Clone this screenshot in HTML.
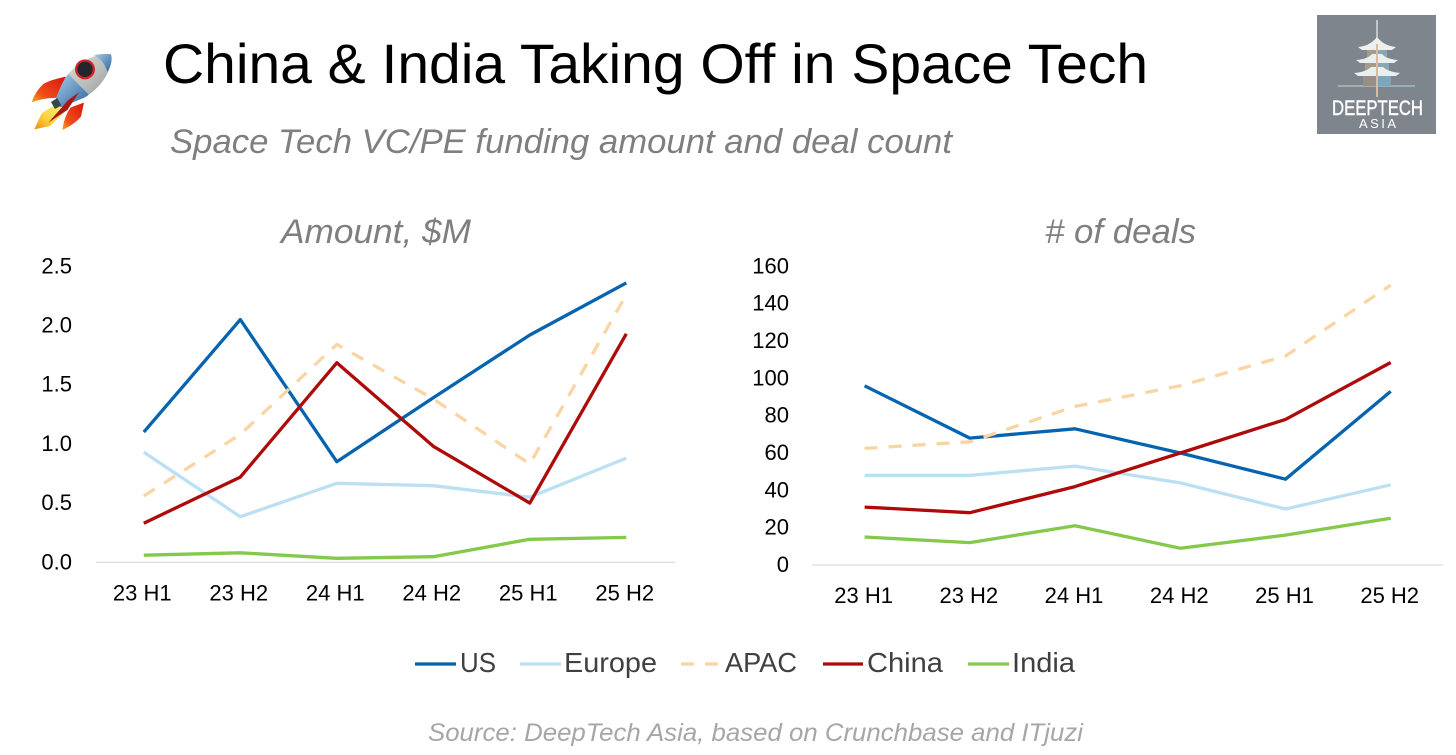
<!DOCTYPE html>
<html lang="en">
<head>
<meta charset="utf-8">
<title>China &amp; India Taking Off in Space Tech</title>
<style>
html,body{margin:0;padding:0;background:#fff;width:1456px;height:755px;overflow:hidden}
svg{display:block}
text{font-family:"Liberation Sans",sans-serif}
</style>
</head>
<body>
<svg id="root" width="1456" height="755" viewBox="0 0 1456 755" xmlns="http://www.w3.org/2000/svg">
  <defs>
    <linearGradient id="bodyGrad" x1="0" y1="0" x2="1" y2="1">
      <stop offset="0" stop-color="#e2e4e2"/><stop offset=".55" stop-color="#b9bdb9"/><stop offset="1" stop-color="#7d8a90"/>
    </linearGradient>
    <linearGradient id="blueGrad" x1="0" y1="0" x2="1" y2="1">
      <stop offset="0" stop-color="#a9cbe6"/><stop offset="1" stop-color="#2a66a0"/>
    </linearGradient>
    <linearGradient id="finGrad" x1="1" y1="0" x2="0" y2="1">
      <stop offset="0" stop-color="#d9140e"/><stop offset=".7" stop-color="#f0501a"/><stop offset="1" stop-color="#f7a91f"/>
    </linearGradient>
    <linearGradient id="flameGrad" x1="1" y1="0" x2="0" y2="1">
      <stop offset="0" stop-color="#fff48a"/><stop offset=".6" stop-color="#fbd13a"/><stop offset="1" stop-color="#ee8a12"/>
    </linearGradient>
  </defs>

  <rect x="0" y="0" width="1456" height="755" fill="#ffffff"/>

  <g transform="scale(0.33333)">
    <path d="M168 312 L125 340 L103 388 L150 378 L195 335 Z" fill="url(#flameGrad)"/>
    <path d="M197 230 Q150 240 130 252 Q105 275 95 307 Q135 292 178 294 Z" fill="url(#finGrad)"/>
    <path d="M252 308 L212 322 Q192 350 187 390 Q225 372 243 350 Z" fill="url(#finGrad)"/>
    <path d="M168 295 C180 265 190 240 205 222 C235 188 280 160 333 163 C340 190 320 232 298 256 C280 275 262 290 240 298 L182 322 Z" fill="url(#bodyGrad)"/>
    <path d="M282 166 C300 161 320 161 333 163 C338 180 332 200 322 216 C316 192 302 175 282 166 Z" fill="url(#blueGrad)"/>
    <path d="M168 295 C180 265 190 240 205 222 L266 284 C258 291 250 295 240 298 L182 322 Z" fill="url(#blueGrad)"/>
    <path d="M153 306 L172 294 L184 317 L165 327 Z" fill="#37474a"/>
    <path d="M238 276 L205 300 L145 368 L202 330 Z" fill="#a8190f"/>
    <circle cx="255" cy="208" r="30" fill="#d9212a"/>
    <circle cx="255" cy="208" r="23" fill="#23262b"/>
  </g>

  <text x="163" y="83" font-size="56" fill="#000000" textLength="985" lengthAdjust="spacingAndGlyphs">China &amp; India Taking Off in Space Tech</text>
  <text x="170" y="153" font-size="34" font-style="italic" fill="#7f7f7f" textLength="782" lengthAdjust="spacingAndGlyphs">Space Tech VC/PE funding amount and deal count</text>

  <g>
    <rect x="1317" y="15" width="119" height="119" fill="#7f858c"/>
    <line x1="1338" y1="86" x2="1377" y2="86" stroke="#d9d2c6" stroke-width="1"/>
    <line x1="1377" y1="86" x2="1415" y2="86" stroke="#a9d6ea" stroke-width="1"/>
    <line x1="1377" y1="20" x2="1377" y2="46" stroke="#eef0f0" stroke-width="1.2"/>
    <rect x="1367" y="50" width="10" height="10" fill="#a89a88"/>
    <rect x="1377" y="50" width="10" height="10" fill="#86a8b8"/>
    <rect x="1365" y="63" width="12" height="10" fill="#a89a88"/>
    <rect x="1377" y="63" width="12" height="10" fill="#86a8b8"/>
    <rect x="1363" y="76" width="14" height="10" fill="#989088"/>
    <rect x="1377" y="76" width="14" height="10" fill="#7ea6ba"/>
    <path d="M1358 47 Q1370 46 1377 37 Q1384 46 1396 47 L1392 50 L1362 50 Z" fill="#eef0f0"/>
    <path d="M1356 60 Q1368 59 1372 54 L1382 54 Q1386 59 1398 60 L1394 63 L1360 63 Z" fill="#e9eeee"/>
    <path d="M1354 73 Q1366 72 1371 67 L1383 67 Q1388 72 1400 73 L1396 76 L1358 76 Z" fill="#e9eeee"/>
    <line x1="1377" y1="44" x2="1377" y2="97" stroke="#d7bd9b" stroke-width="2"/>
    <text x="1332" y="115" font-size="21" fill="#ffffff" stroke="#ffffff" stroke-width="0.4" textLength="91" lengthAdjust="spacingAndGlyphs">DEEPTECH</text>
    <text x="1359" y="128" font-size="13" fill="#ffffff" textLength="37" lengthAdjust="spacing">ASIA</text>
  </g>

  <text x="281" y="243" font-size="34" font-style="italic" fill="#7f7f7f" textLength="190" lengthAdjust="spacingAndGlyphs">Amount, $M</text>
  <text x="1045" y="243" font-size="34" font-style="italic" fill="#7f7f7f" textLength="151" lengthAdjust="spacingAndGlyphs"># of deals</text>

  <g id="amount-chart"></g>
  <g id="deals-chart"></g>

  <g>
    <g>
      <line x1="415" y1="664" x2="456" y2="664" stroke="#0563AF" stroke-width="3.3"/>
      <text x="460" y="672" font-size="28" fill="#404040" textLength="36" lengthAdjust="spacingAndGlyphs">US</text>
    </g>
    <g>
      <line x1="520" y1="664" x2="561" y2="664" stroke="#BCE0F3" stroke-width="3.3"/>
      <text x="564" y="672" font-size="28" fill="#404040" textLength="93" lengthAdjust="spacingAndGlyphs">Europe</text>
    </g>
    <g>
      <line x1="681" y1="664" x2="718" y2="664" stroke="#F9D5A4" stroke-width="3.3" stroke-dasharray="13 11"/>
      <text x="725" y="672" font-size="28" fill="#404040" textLength="72" lengthAdjust="spacingAndGlyphs">APAC</text>
    </g>
    <g>
      <line x1="823" y1="664" x2="863" y2="664" stroke="#AE0A0A" stroke-width="3.3"/>
      <text x="867" y="672" font-size="28" fill="#404040" textLength="76" lengthAdjust="spacingAndGlyphs">China</text>
    </g>
    <g>
      <line x1="968" y1="664" x2="1009" y2="664" stroke="#84C94B" stroke-width="3.3"/>
      <text x="1012" y="672" font-size="28" fill="#404040" textLength="63" lengthAdjust="spacingAndGlyphs">India</text>
    </g>
  </g>

  <text x="428" y="741" font-size="25" font-style="italic" fill="#a6a6a6" textLength="655" lengthAdjust="spacingAndGlyphs">Source: DeepTech Asia, based on Crunchbase and ITjuzi</text>
</svg>

<script>
const categories = ['23 H1', '23 H2', '24 H1', '24 H2', '25 H1', '25 H2'];

const amountTicks = [0, 0.5, 1, 1.5, 2, 2.5];
const amountUS = [1.10, 2.05, 0.85, 1.39, 1.92, 2.36];
const amountEurope = [0.93, 0.385, 0.667, 0.647, 0.55, 0.88];
const amountAPAC = [0.56, 1.08, 1.84, 1.38, 0.83, 2.26];
const amountChina = [0.33, 0.72, 1.685, 0.98, 0.50, 1.93];
const amountIndia = [0.06, 0.08, 0.034, 0.047, 0.194, 0.21];

const dealTicks = [0, 20, 40, 60, 80, 100, 120, 140, 160];
const dealsUS = [96, 68, 73, 60, 46, 93];
const dealsEurope = [48, 48, 53, 44, 30, 43];
const dealsAPAC = [62.5, 66, 85, 96, 112, 150];
const dealsChina = [31, 28, 42, 60, 78, 108.5];
const dealsIndia = [15, 12, 21, 9, 16, 25];

const SVG_NS = 'http://www.w3.org/2000/svg';

function mk(parent, tag, attrs, text) {
  const el = document.createElementNS(SVG_NS, tag);
  for (const k in attrs) el.setAttribute(k, attrs[k]);
  if (text !== undefined) el.textContent = text;
  parent.appendChild(el);
  return el;
}

function drawChart(rootId, cfg, series) {
  const root = document.getElementById(rootId);
  const step = (cfg.axisRight - cfg.axisLeft) / categories.length;
  const xScale = i => cfg.axisLeft + step * (i + 0.5) + cfg.markDx;
  const yScale = v => cfg.baseY - (v / cfg.maxTick) * cfg.plotH;

  const axis = mk(root, 'line', {x1: cfg.axisLeft, x2: cfg.axisRight, y1: cfg.baseY, y2: cfg.baseY, stroke: '#d4d4d4', 'stroke-width': 1});
  
  

  cfg.ticks.forEach(t => {
    const label = mk(root, 'text', {x: cfg.tickX, y: yScale(t) + cfg.tickDy, 'text-anchor': 'end', 'font-size': 22, fill: '#000'}, t.toFixed(cfg.decimals));
    
    
  });

  categories.forEach((c, i) => {
    const label = mk(root, 'text', {x: xScale(i) + cfg.catDx, y: cfg.catY, 'text-anchor': 'middle', 'font-size': 22, fill: '#000'}, c);
    
    
  });

  series.forEach(s => {
    const pts = s.values.map((v, i) => xScale(i).toFixed(1) + ',' + yScale(v).toFixed(1)).join(' ');
    const attrs = {points: pts, fill: 'none', stroke: s.color, 'stroke-width': 3.3, 'stroke-linejoin': 'round', 'stroke-linecap': 'butt'};
    if (s.dash) attrs['stroke-dasharray'] = s.dash;
    const line = mk(root, 'polyline', attrs);
    
    
  });
}

const amountConfig = {axisLeft: 96, axisRight: 675, baseY: 562.3, plotH: 296, maxTick: 2.5, ticks: amountTicks, decimals: 1, tickX: 72, tickDy: 7, catY: 600.5, markDx: -0.5, catDx: -1.5};
const dealsConfig = {axisLeft: 812, axisRight: 1443.3, baseY: 565, plotH: 298.6, maxTick: 160, ticks: dealTicks, decimals: 0, tickX: 789, tickDy: 7, catY: 603, markDx: 0, catDx: -1};

drawChart('amount-chart', amountConfig, [
  {name: 'amount-line-us', color: '#0563AF', values: amountUS},
  {name: 'amount-line-europe', color: '#BCE0F3', values: amountEurope},
  {name: 'amount-line-apac', color: '#F9D5A4', dash: '13 11', values: amountAPAC},
  {name: 'amount-line-china', color: '#AE0A0A', values: amountChina},
  {name: 'amount-line-india', color: '#84C94B', values: amountIndia}
]);

drawChart('deals-chart', dealsConfig, [
  {name: 'deals-line-us', color: '#0563AF', values: dealsUS},
  {name: 'deals-line-europe', color: '#BCE0F3', values: dealsEurope},
  {name: 'deals-line-apac', color: '#F9D5A4', dash: '13 11', values: dealsAPAC},
  {name: 'deals-line-china', color: '#AE0A0A', values: dealsChina},
  {name: 'deals-line-india', color: '#84C94B', values: dealsIndia}
]);
</script>
</body>
</html>
